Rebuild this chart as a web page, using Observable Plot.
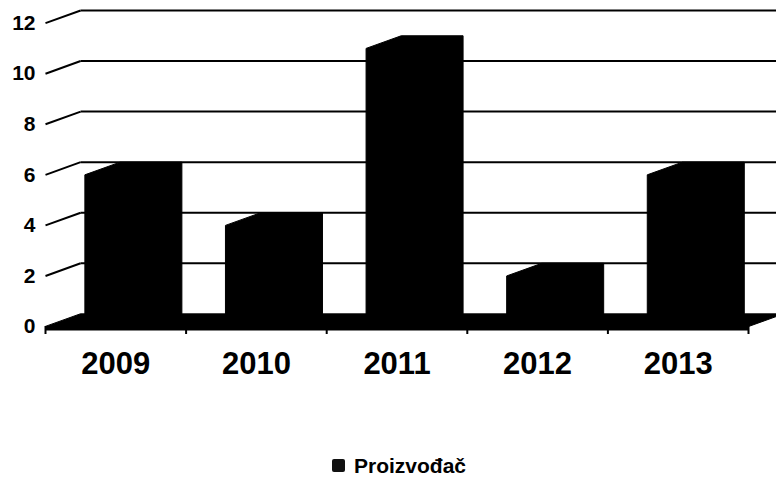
<!DOCTYPE html>
<html>
<head>
<meta charset="utf-8">
<script src="https://cdn.jsdelivr.net/npm/d3@7"></script>
<script src="https://cdn.jsdelivr.net/npm/@observablehq/plot@0.6"></script>
<style>
  html, body { margin: 0; padding: 0; background: #fff; overflow: hidden; }
  #chart svg { overflow: hidden; display: block; }
  .legend { display: flex; align-items: center; gap: 9px; padding: 15px 0 0 332px;
            font: bold 21px/21px "Liberation Sans", Arial, sans-serif; color: #000; }
  .legend .sw { width: 13px; height: 13px; background: #111; border-radius: 2px; }
</style>
</head>
<body>
<div id="chart"></div>
<div class="legend"><span class="sw"></span><span id="legendText"></span></div>
<script>
const years = ["2009", "2010", "2011", "2012", "2013"];
const values = [6, 4, 11, 2, 6];
const yTicks = [0, 2, 4, 6, 8, 10, 12];
const seriesName = "Proizvođač";

// oblique 3D projection expressed in data units (band units, value units)
const depthX = 0.25, depthY = 0.5;
const faceStart = 0.28, faceEnd = 0.72;

const bars = years.map((yr, i) => ({year: yr, index: i, value: values[i]}));

// prism silhouettes of the bars
const barPts = bars.flatMap(b => {
  const x0 = b.index + faceStart, x1 = b.index + faceEnd, v = b.value;
  return [
    {year: b.year, x: x0, y: 0},
    {year: b.year, x: x0, y: v},
    {year: b.year, x: x0 + depthX, y: v + depthY},
    {year: b.year, x: x1 + depthX, y: v + depthY},
    {year: b.year, x: x1 + depthX, y: depthY},
    {year: b.year, x: x1, y: 0}
  ];
});

const n = years.length;
const floorPts = [
  {x: 0, y: 0}, {x: n, y: 0}, {x: n + depthX, y: depthY}, {x: depthX, y: depthY}
];
const gridVals = yTicks.filter(v => v > 0);

const plot = Plot.plot({
  width: 776,
  height: 440,
  marginLeft: 45,
  marginRight: 28,
  marginTop: 10,
  marginBottom: 114,
  style: {fontFamily: "'Liberation Sans', Arial, sans-serif", fontWeight: "bold", color: "#000", background: "#fff"},
  x: {domain: [0, n]},
  y: {domain: [0, yTicks[yTicks.length - 1] + depthY]},
  marks: [
    // left wall slants
    Plot.link(gridVals, {x1: () => 0, y1: d => d, x2: () => depthX, y2: d => d + depthY, stroke: "#000", strokeWidth: 2}),
    // back wall gridlines
    Plot.link(gridVals, {x1: () => depthX, y1: d => d + depthY, x2: () => n + depthX, y2: d => d + depthY, stroke: "#000", strokeWidth: 2}),
    // floor
    Plot.line(floorPts, {x: "x", y: "y", fill: "#000", stroke: "#000", strokeWidth: 1, curve: "linear-closed"}),
    Plot.ruleY([0], {x1: 0, x2: n, stroke: "#000", strokeWidth: 4, dy: 2}),
    // bars
    Plot.line(barPts, {x: "x", y: "y", z: "year", fill: "#000", stroke: "#000", strokeWidth: 1, curve: "linear-closed"}),
    // axes
    Plot.axisY({ticks: yTicks, tickSize: 0, tickPadding: 10, fontSize: 21, fontWeight: "bold", label: null}),
    Plot.axisX({ticks: d3.range(0, n + 1), tickSize: 8, tickFormat: () => "", label: null, strokeWidth: 2}),
    Plot.text(bars, {x: d => d.index + 0.5, y: () => 0, text: "year", dy: 38, fontSize: 31, fontWeight: "bold", fill: "#000"})
  ]
});
document.getElementById("chart").append(plot);
document.getElementById("legendText").textContent = seriesName;
</script>
</body>
</html>
